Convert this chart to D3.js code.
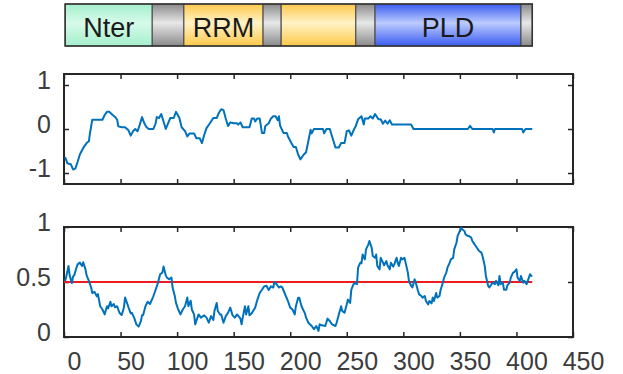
<!DOCTYPE html>
<html>
<head>
<meta charset="utf-8">
<script src="https://cdn.jsdelivr.net/npm/d3@7"></script>
<style>
  body { margin: 0; background: #fff; }
  text { font-family: "Liberation Sans", Arial, sans-serif; }
</style>
</head>
<body>
<svg id="chart" width="623" height="374"></svg>
<script>
// domain map (residue ranges)
var domainStart = [1, 78, 106, 176, 192, 258, 275, 404];
var domainEnd   = [78, 106, 176, 192, 258, 275, 404, 414];
var domainKind  = ["nter", "link", "rrm", "link", "rrm", "link", "pld", "link"];
var domainLabel = ["Nter", "", "RRM", "", "", "", "PLD", ""];

// top track
var resTop = [1,3,6,8,10,12,14,17,20,22, 23,25,28,34,36,38,40,43,45,47, 48,51,54,57,59,61,63,65,67,69,
  71,73,75,79,81,82,84,86,88,90, 92,94,97,99,102,104,107,109,111,115, 117,120,122,124,126,129,132,135,137,139,
  141,143,145,147,150,153,154,156,158,164, 166,168,169,171,173,175,177,178,181,183, 185,187,189,190,191,194,197,198,201,203,
  205,207,209,212,214,216,218,219,221,229, 230,232,235,237,240,243,245,248,250,252, 254,256,258,260,263,265,266,269,271,273,
  275,278,280,282,284,286,288,290,307,309, 357,359,361,379,380,381,405,406,408,414];
var valTop = [-0.64,-0.78,-0.80,-0.92,-0.90,-0.75,-0.58,-0.43,-0.32,-0.28, -0.09,0.21,0.21,0.21,0.32,0.39,0.39,0.32,0.28,0.21,
  0.06,0.04,0.04,-0.03,-0.15,-0.05,0.0,-0.05,0.1,0.27, 0.13,0.04,0.0,0.0,0.13,0.27,0.25,0.34,0.17,0.0,
  0.13,0.25,0.25,0.39,0.25,0.04,-0.05,-0.17,-0.1,-0.1, -0.21,-0.21,-0.32,-0.13,0.02,0.13,0.25,0.25,0.37,0.45,
  0.43,0.24,0.07,0.15,0.13,0.13,0.1,0.15,0.04,0.04, 0.24,0.24,0.17,0.24,0.24,-0.09,-0.09,0.07,0.13,0.24,
  0.29,0.29,0.2,0.29,0.08,-0.09,-0.09,-0.17,-0.32,-0.41, -0.41,-0.58,-0.69,-0.58,-0.53,-0.28,-0.02,-0.1,0.0,0.0,
  -0.1,0.0,0.0,-0.17,-0.42,-0.42,-0.32,-0.32,-0.05,-0.03, -0.15,-0.03,0.07,0.22,0.29,0.1,0.24,0.24,0.29,0.24,
  0.34,0.22,0.22,0.12,0.19,0.12,0.2,0.1,0.1,0.0, 0.0,0.07,0.0,0.0,-0.08,0.0,0.0,-0.08,0.0,0.0];

// bottom track
var resBot = [1,2,4,5,7,8,9,11,12,14, 16,17,19,20,22,24,25,27,29,30, 32,34,36,38,39,41,42,44,45,47,
  49,51,53,54,56,57,59,60,62,64, 66,68,69,70,72,74,76,79,81,83, 85,87,88,90,91,93,95,96,98,99,
  101,103,105,107,109,110,112,113,115,116, 118,119,121,124,126,128,130,132,133,135, 136,138,139,141,143,145,147,149,151,153,
  156,157,158,160,161,163,164,166,169,171, 173,175,177,179,181,183,185,186,188,190, 192,193,195,198,200,202,204,205,207,208,
  210,213,214,216,219,221,223,225,226,228, 231,233,235,237,240,241,243,245,246,248, 250,251,253,254,256,257,259,260,262,263,
  264,266,267,269,270,272,273,275,276,277, 279,280,282,283,285,286,288,289,291,292, 294,295,296,298,299,301,302,304,305,307,
  308,310,311,313,314,316,317,319,320,322, 323,325,326,327,329,330,332,333,335,336, 338,339,341,342,344,345,347,348,350,351,
  352,354,355,357,358,360,361,363,364,366, 367,369,370,372,373,375,376,378,379,381, 382,384,385,386,388,389,391,392,394,395,
  397,398,400,401,403,404,406,407,409,410, 412,413,414];
var valBot = [0.51,0.55,0.645,0.56,0.49,0.55,0.56,0.63,0.66,0.676, 0.645,0.68,0.615,0.56,0.51,0.45,0.40,0.41,0.37,0.39,
  0.28,0.25,0.206,0.28,0.26,0.32,0.28,0.30,0.27,0.28, 0.22,0.20,0.27,0.36,0.30,0.27,0.215,0.22,0.176,0.115,
  0.094,0.145,0.197,0.2,0.28,0.32,0.30,0.37,0.43,0.49, 0.57,0.585,0.64,0.56,0.54,0.525,0.54,0.45,0.37,0.31,
  0.25,0.205,0.25,0.28,0.36,0.28,0.33,0.25,0.205,0.115, 0.176,0.205,0.176,0.197,0.176,0.13,0.19,0.155,0.236,0.31,
  0.236,0.205,0.205,0.13,0.19,0.22,0.267,0.197,0.176,0.205, 0.167,0.115,0.176,0.28,0.205,0.28,0.197,0.215,0.267,0.34,
  0.40,0.43,0.46,0.466,0.427,0.46,0.45,0.5,0.48,0.45, 0.46,0.45,0.40,0.327,0.267,0.25,0.205,0.28,0.357,0.357,
  0.28,0.215,0.176,0.13,0.1,0.07,0.1,0.055,0.115,0.106, 0.1,0.167,0.145,0.115,0.1,0.13,0.205,0.28,0.236,0.22,
  0.297,0.34,0.31,0.43,0.48,0.49,0.48,0.63,0.676,0.67, 0.75,0.706,0.797,0.84,0.873,0.812,0.736,0.72,0.75,0.645,
  0.615,0.72,0.676,0.652,0.69,0.652,0.615,0.676,0.64,0.66, 0.72,0.676,0.645,0.72,0.706,0.72,0.676,0.585,0.509,0.464,
  0.45,0.524,0.494,0.418,0.388,0.373,0.358,0.373,0.327,0.297, 0.327,0.306,0.358,0.327,0.4,0.358,0.373,0.43,0.494,0.54,
  0.585,0.63,0.676,0.706,0.72,0.797,0.857,0.918,0.964,0.994, 0.979,0.964,0.933,0.918,0.918,0.903,0.873,0.842,0.827,0.797,
  0.782,0.767,0.736,0.645,0.555,0.464,0.45,0.48,0.494,0.48, 0.51,0.47,0.555,0.48,0.494,0.43,0.43,0.47,0.494,0.54,
  0.585,0.59,0.615,0.54,0.51,0.555,0.494,0.51,0.48,0.51, 0.57,0.555,0.56];
var threshold = 0.5;

var xTicks = [0, 50, 100, 150, 200, 250, 300, 350, 400, 450];
var topYTicks = [-1, 0, 1];
var botYTicks = [0, 0.5, 1];

var kindColors = {
  nter: ["#a4efcd", "#d6fbe9"],
  link: ["#8a8a8a", "#e8e8e8"],
  rrm:  ["#fcc84a", "#fff3c6"],
  pld:  ["#3b5cf0", "#bccbff"]
};

var svg = d3.select("#chart");
var x = d3.scaleLinear().domain([0, 450]).range([64, 573]);
var yTop = d3.scaleLinear().domain([-1.25, 1.25]).range([184, 74]);
var yBot = d3.scaleLinear().domain([0, 1]).range([337, 227]);

// gradients for the domain bar
var defs = svg.append("defs");
Object.keys(kindColors).forEach(function(k) {
  var g = defs.append("linearGradient").attr("id", "grad-" + k)
    .attr("x1", 0).attr("y1", 0).attr("x2", 0).attr("y2", 1);
  g.append("stop").attr("offset", "0%").attr("stop-color", kindColors[k][0]);
  g.append("stop").attr("offset", "45%").attr("stop-color", kindColors[k][1]);
  g.append("stop").attr("offset", "100%").attr("stop-color", kindColors[k][0]);
});

var bar = svg.append("g");
bar.selectAll("rect.dom")
  .data(domainStart)
  .enter().append("rect")
  .attr("class", "dom")
  .attr("x", function(d) { return x(d); })
  .attr("y", 4)
  .attr("width", function(d, i) { return x(domainEnd[i]) - x(d); })
  .attr("height", 42)
  .attr("fill", function(d, i) { return "url(#grad-" + domainKind[i] + ")"; })
  .attr("stroke", "#444")
  .attr("stroke-width", 1);
bar.append("rect")
  .attr("x", x(domainStart[0])).attr("y", 4)
  .attr("width", x(domainEnd[domainEnd.length - 1]) - x(domainStart[0]))
  .attr("height", 42)
  .attr("fill", "none").attr("stroke", "#333").attr("stroke-width", 1.5);
bar.selectAll("text")
  .data(domainLabel)
  .enter().append("text")
  .attr("x", function(d, i) { return (x(domainStart[i]) + x(domainEnd[i])) / 2; })
  .attr("y", 37)
  .attr("text-anchor", "middle")
  .attr("font-size", "27px")
  .attr("fill", "#1a1a1a")
  .text(function(d) { return d; });

function panel(y, yTicks, showX) {
  var g = svg.append("g");
  var r = y.range();
  var bottom = r[0], top = r[1];

  var ax = g.append("g").attr("transform", "translate(0," + bottom + ")")
    .call(d3.axisBottom(x).tickValues(xTicks).tickSize(-5).tickPadding(15)
      .tickFormat(showX ? function(d) { return String(d); } : ""));
  g.append("g").attr("transform", "translate(0," + top + ")")
    .call(d3.axisTop(x).tickValues(xTicks).tickSize(-5).tickFormat(""));
  var ay = g.append("g").attr("transform", "translate(" + x.range()[0] + ",0)")
    .call(d3.axisLeft(y).tickValues(yTicks).tickSize(-5).tickPadding(13)
      .tickFormat(function(d) { return String(d); }));
  g.append("g").attr("transform", "translate(" + x.range()[1] + ",0)")
    .call(d3.axisRight(y).tickValues(yTicks).tickSize(-5).tickFormat(""));

  g.selectAll(".domain").remove();
  g.selectAll(".tick line").attr("stroke", "#262626").attr("stroke-width", 1.5);
  g.selectAll(".tick text").attr("font-size", "25px").attr("fill", "#3c3c3c")
    .style("font-family", "'Liberation Sans', Arial, sans-serif");
  ax.selectAll(".tick text").attr("dx", 10);
  ay.selectAll(".tick text").attr("y", -5);

  g.append("rect")
    .attr("x", x.range()[0]).attr("y", top)
    .attr("width", x.range()[1] - x.range()[0])
    .attr("height", bottom - top)
    .attr("fill", "none").attr("stroke", "#262626").attr("stroke-width", 2);
  return g;
}

var line = function(y) {
  return d3.line().x(function(d) { return x(d[0]); }).y(function(d) { return y(d[1]); });
};

var gTop = panel(yTop, topYTicks, false);
gTop.append("path")
  .datum(d3.zip(resTop, valTop))
  .attr("d", line(yTop))
  .attr("fill", "none").attr("stroke", "#0072bd").attr("stroke-width", 2)
  .attr("stroke-linejoin", "round");

var gBot = panel(yBot, botYTicks, true);
gBot.append("path")
  .datum([[0, threshold], [414, threshold]])
  .attr("d", line(yBot))
  .attr("fill", "none").attr("stroke", "#ee1c1c").attr("stroke-width", 2.2);
gBot.append("path")
  .datum(d3.zip(resBot, valBot))
  .attr("d", line(yBot))
  .attr("fill", "none").attr("stroke", "#0072bd").attr("stroke-width", 2)
  .attr("stroke-linejoin", "round");
</script>
</body>
</html>
